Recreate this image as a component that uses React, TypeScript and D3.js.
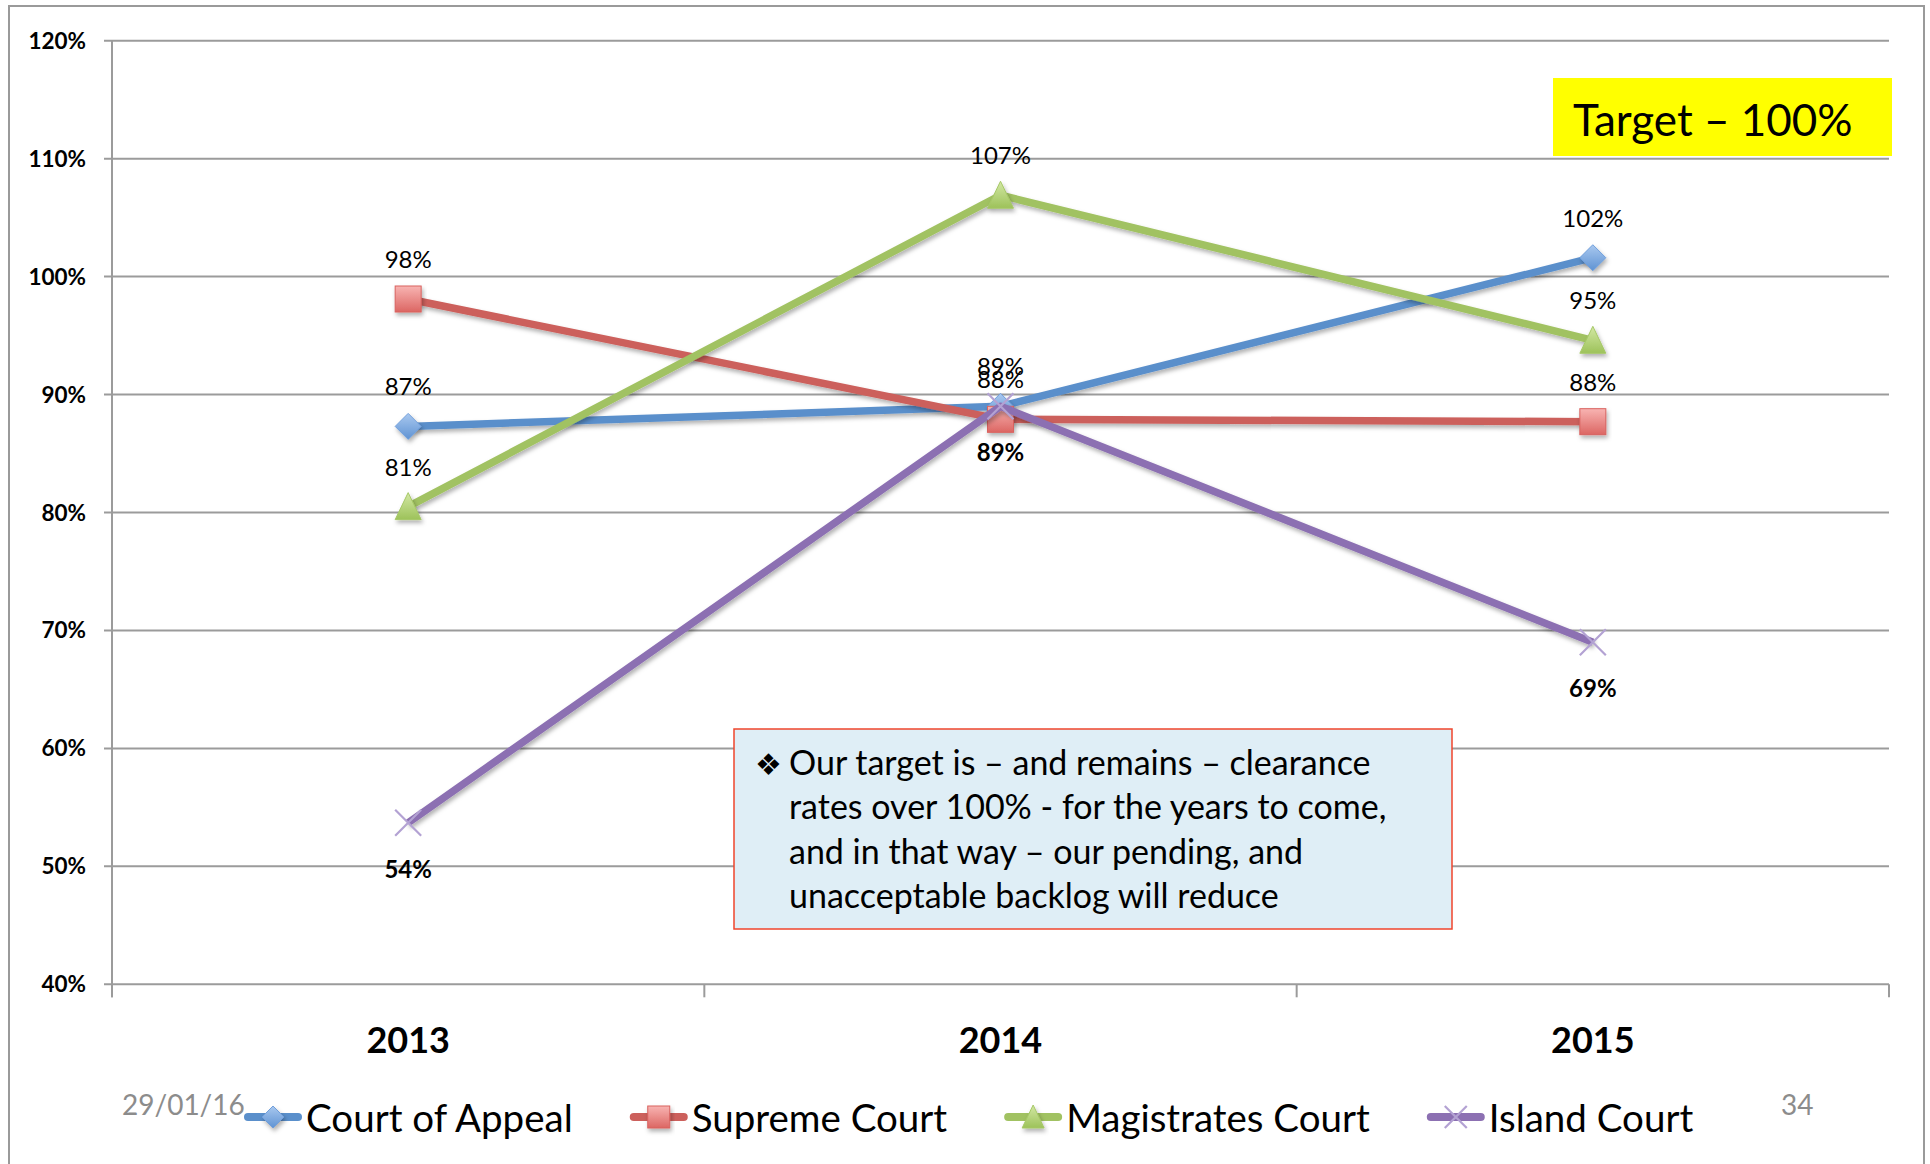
import React, { useEffect, useRef } from 'react';
import * as d3 from 'd3';

// chart data
const years = ['2013', '2014', '2015'];
const seriesNames = ['Court of Appeal', 'Supreme Court', 'Magistrates Court', 'Island Court'];
const courtOfAppeal = [87.3, 89.0, 101.6];
const supremeCourt = [98.1, 87.9, 87.7];
const magistratesCourt = [80.5, 106.9, 94.6];
const islandCourt = [53.7, 89.0, 69.0];
const yTicks = [40, 50, 60, 70, 80, 90, 100, 110, 120];
const targetValue = 100;
const noteLines = [
  'Our target is \u2013 and remains \u2013 clearance',
  'rates over 100% - for the years to come,',
  'and in that way \u2013 our pending, and',
  'unacceptable backlog will reduce',
];

const FONT = 'Lato, "Open Sans", sans-serif';

export default function App() {
  const ref = useRef<SVGSVGElement | null>(null);

  useEffect(() => {
    const svg = d3.select(ref.current);
    svg.selectAll('*').remove();

    var plot = { left: 112, right: 1889, top: 40.7, bottom: 984.3 };

    var x = d3.scaleBand<string>().domain(years).range([plot.left, plot.right]).padding(0);
    var y = d3.scaleLinear().domain([40, 120]).range([plot.bottom, plot.top]);
    var cx = (d: string) => (x(d) as number) + x.bandwidth() / 2;

    var defs = svg.append('defs');
    var shadow = defs
      .append('filter')
      .attr('id', 'shadow')
      .attr('x', '-20%')
      .attr('y', '-20%')
      .attr('width', '140%')
      .attr('height', '160%');
    shadow
      .append('feDropShadow')
      .attr('dx', 1.5)
      .attr('dy', 3)
      .attr('stdDeviation', 2)
      .attr('flood-color', '#000')
      .attr('flood-opacity', 0.3);

    // marker gradients
    var grads = [
      ['gBlue', '#a9c8ef', '#5f93d3'],
      ['gRed', '#f8b4b2', '#dc6663'],
      ['gGreen', '#d3e8a4', '#9dc25a'],
    ];
    grads.forEach(function (g) {
      var lg = defs.append('linearGradient').attr('id', g[0]).attr('x1', 0).attr('y1', 0).attr('x2', 0).attr('y2', 1);
      lg.append('stop').attr('offset', '0%').attr('stop-color', g[1]);
      lg.append('stop').attr('offset', '100%').attr('stop-color', g[2]);
    });

    // outer frame
    svg
      .append('rect')
      .attr('x', 9)
      .attr('y', 6)
      .attr('width', 1915)
      .attr('height', 1170)
      .attr('fill', '#fff')
      .attr('stroke', '#9a9a9a')
      .attr('stroke-width', 2);

    // gridlines + y labels
    var grid = svg.append('g');
    grid
      .selectAll('line')
      .data(yTicks)
      .enter()
      .append('line')
      .attr('x1', plot.left - 8)
      .attr('x2', plot.right)
      .attr('y1', (d) => y(d))
      .attr('y2', (d) => y(d))
      .attr('stroke', '#9b9b9b')
      .attr('stroke-width', 2);
    grid
      .selectAll('text')
      .data(yTicks)
      .enter()
      .append('text')
      .attr('x', 86)
      .attr('y', (d) => y(d) + 8)
      .attr('text-anchor', 'end')
      .attr('font-family', FONT)
      .attr('font-weight', 'bold')
      .attr('font-size', 22.5)
      .text((d) => d + '%');

    // y axis line
    svg
      .append('line')
      .attr('x1', plot.left)
      .attr('x2', plot.left)
      .attr('y1', plot.top)
      .attr('y2', plot.bottom + 13)
      .attr('stroke', '#9b9b9b')
      .attr('stroke-width', 2);

    // x axis ticks (category boundaries)
    var bounds = years.map((d) => x(d) as number).concat([plot.right]);
    svg
      .selectAll('.xtick')
      .data(bounds)
      .enter()
      .append('line')
      .attr('x1', (d) => d)
      .attr('x2', (d) => d)
      .attr('y1', plot.bottom)
      .attr('y2', plot.bottom + 13)
      .attr('stroke', '#9b9b9b')
      .attr('stroke-width', 2);

    svg
      .selectAll('.xlabel')
      .data(years)
      .enter()
      .append('text')
      .attr('x', cx)
      .attr('y', 1053)
      .attr('text-anchor', 'middle')
      .attr('font-family', FONT)
      .attr('font-weight', 'bold')
      .attr('font-size', 36)
      .text((d) => d);

    var series = [
      { name: seriesNames[0], values: courtOfAppeal, color: '#5a8fcb', fill: 'url(#gBlue)', shape: 'diamond', below: false },
      { name: seriesNames[1], values: supremeCourt, color: '#cc605c', fill: 'url(#gRed)', shape: 'square', below: false },
      { name: seriesNames[2], values: magistratesCourt, color: '#a1c262', fill: 'url(#gGreen)', shape: 'triangle', below: false },
      { name: seriesNames[3], values: islandCourt, color: '#8c70b2', fill: 'none', shape: 'x', below: true },
    ];

    // draw a marker centred at (px, py)
    function marker(g: any, s: any, px: number, py: number, size: number) {
      var h = size / 2;
      if (s.shape === 'diamond') {
        g.append('path')
          .attr('d', `M${px},${py - h}L${px + h},${py}L${px},${py + h}L${px - h},${py}Z`)
          .attr('fill', s.fill)
          .attr('stroke', '#6f9edb')
          .attr('stroke-width', 1)
          .attr('filter', 'url(#shadow)');
      } else if (s.shape === 'square') {
        g.append('rect')
          .attr('x', px - h)
          .attr('y', py - h)
          .attr('width', size)
          .attr('height', size)
          .attr('fill', s.fill)
          .attr('stroke', '#d9625f')
          .attr('stroke-width', 1)
          .attr('filter', 'url(#shadow)');
      } else if (s.shape === 'triangle') {
        g.append('path')
          .attr('d', `M${px},${py - h - 1}L${px + h},${py + h}L${px - h},${py + h}Z`)
          .attr('fill', s.fill)
          .attr('stroke', '#a6c867')
          .attr('stroke-width', 1)
          .attr('filter', 'url(#shadow)');
      } else {
        g.append('path')
          .attr('d', `M${px - h},${py - h}L${px + h},${py + h}M${px + h},${py - h}L${px - h},${py + h}`)
          .attr('stroke', '#b3a2d3')
          .attr('stroke-width', 2.2)
          .attr('fill', 'none');
      }
    }

    var line = d3
      .line<number>()
      .x((d, i) => cx(years[i]))
      .y((d) => y(d));

    series.forEach(function (s) {
      var g = svg.append('g');
      g.append('path')
        .attr('d', line(s.values))
        .attr('fill', 'none')
        .attr('stroke', s.color)
        .attr('stroke-width', 7.5)
        .attr('stroke-linejoin', 'round')
        .attr('filter', 'url(#shadow)');
      s.values.forEach(function (v, i) {
        marker(g, s, cx(years[i]), y(v), 26);
      });
    });

    // data labels
    series.forEach(function (s) {
      svg
        .append('g')
        .selectAll('text')
        .data(s.values)
        .enter()
        .append('text')
        .attr('x', (d, i) => cx(years[i]))
        .attr('y', (d) => (s.below ? y(d) + 55 : y(d) - 31))
        .attr('text-anchor', 'middle')
        .attr('font-family', FONT)
        .attr('font-size', 24)
        .attr('font-weight', s.below ? 'bold' : 'normal')
        .text((d) => Math.round(d) + '%');
    });

    // target line
    svg
      .append('line')
      .attr('x1', 102)
      .attr('x2', 1886)
      .attr('y1', y(targetValue) + 4)
      .attr('y2', y(targetValue) + 4)
      .attr('stroke', '#ff2200')
      .attr('stroke-width', 7)
      .attr('filter', 'url(#shadow)');

    // target box
    svg.append('rect').attr('x', 1553).attr('y', 78).attr('width', 339).attr('height', 78).attr('fill', '#ffff00');
    svg
      .append('text')
      .attr('x', 1573)
      .attr('y', 136)
      .attr('font-family', FONT)
      .attr('font-size', 44)
      .text('Target \u2013 ' + targetValue + '%');

    // note box
    var note = svg.append('g');
    note
      .append('rect')
      .attr('x', 734)
      .attr('y', 729)
      .attr('width', 718)
      .attr('height', 200)
      .attr('fill', '#dfeef6')
      .attr('stroke', '#f0452c')
      .attr('stroke-width', 1.5);
    note
      .append('text')
      .attr('x', 755)
      .attr('y', 775)
      .attr('font-family', '"DejaVu Sans", sans-serif')
      .attr('font-size', 30)
      .text('\u2756');
    note
      .selectAll('.nl')
      .data(noteLines)
      .enter()
      .append('text')
      .attr('x', 789)
      .attr('y', (d, i) => 775 + i * 44.3)
      .attr('font-family', FONT)
      .attr('font-size', 34)
      .text((d) => d);

    // footer
    svg
      .append('text')
      .attr('x', 122)
      .attr('y', 1115)
      .attr('font-family', FONT)
      .attr('font-size', 28)
      .attr('fill', '#8c8c8c')
      .text('29/01/16');
    svg
      .append('text')
      .attr('x', 1781)
      .attr('y', 1115)
      .attr('font-family', FONT)
      .attr('font-size', 28)
      .attr('fill', '#8c8c8c')
      .text('34');

    // legend
    var lx = 244;
    series.forEach(function (s) {
      var g = svg.append('g');
      g.append('line')
        .attr('x1', lx + 4)
        .attr('x2', lx + 54)
        .attr('y1', 1117)
        .attr('y2', 1117)
        .attr('stroke', s.color)
        .attr('stroke-width', 8)
        .attr('stroke-linecap', 'round');
      marker(g, s, lx + 29, 1117, 22);
      var t = g
        .append('text')
        .attr('x', lx + 62)
        .attr('y', 1132)
        .attr('font-family', FONT)
        .attr('font-size', 38.5)
        .text(s.name);
      var w = (t.node() as SVGTextElement).getComputedTextLength();
      lx = lx + 62 + w + 57;
    });
  }, []);

  return (
    <svg
      ref={ref}
      width={1930}
      height={1164}
      style={{ position: 'absolute', left: 0, top: 0, background: '#fff' }}
    />
  );
}
